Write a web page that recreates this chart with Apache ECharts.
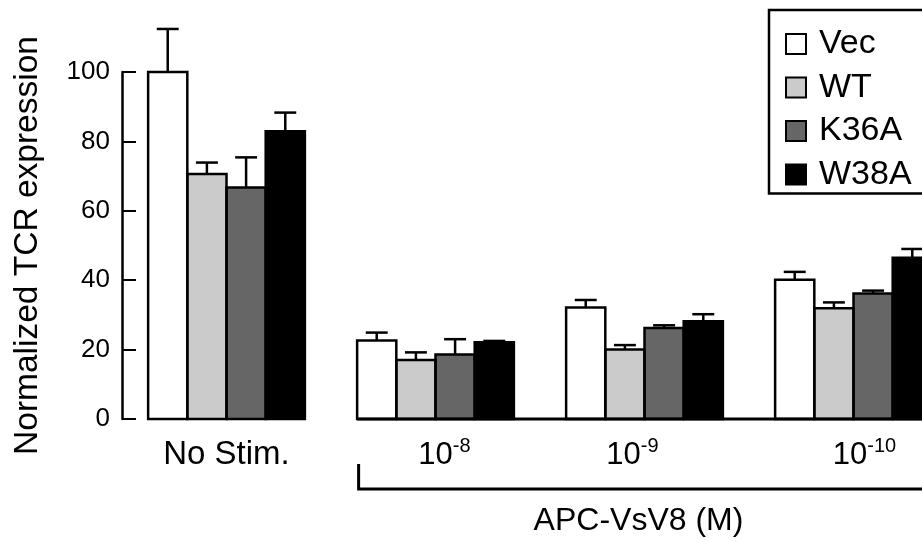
<!DOCTYPE html>
<html><head><meta charset="utf-8">
<script src="https://cdn.jsdelivr.net/npm/echarts@6/dist/echarts.min.js"></script>
<style>html,body{margin:0;padding:0;background:#fff}#c{width:922px;height:541px}</style>
</head><body><div id="c"></div>
<script>
// ---- data ----
const categoryBase = ['No Stim.', '10', '10', '10'];
const categoryExp = ['', '-8', '-9', '-10'];
const seriesNames = ['Vec', 'WT', 'K36A', 'W38A'];
const vecValues  = [100, 22.6, 32.1, 40.1];
const wtValues   = [70.6, 17.0, 20.0, 31.9];
const k36aValues = [66.7, 18.6, 26.2, 36.2];
const w38aValues = [82.9, 22.1, 28.2, 46.5];
const vecErr  = [12.4, 2.3, 2.2, 2.3];
const wtErr   = [3.3, 2.2, 1.3, 1.7];
const k36aErr = [8.7, 4.4, 0.8, 0.8];
const w38aErr = [5.4, 0.4, 2.0, 2.5];
const yTickValues = [0, 20, 40, 60, 80, 100];
const yTitle = 'Normalized TCR expression';
const xGroupTitle = 'APC-VsV8 (M)';
const stimStart = 1, stimEnd = 3;

// ---- styles ----
const FONT = '"Liberation Sans", Arial, sans-serif';
const fills = ['#ffffff', '#cbcbcb', '#666666', '#000000'];
const labelNudge = [0, 9, -12, 11];
const valuesBySeries = [vecValues, wtValues, k36aValues, w38aValues];
const errBySeries = [vecErr, wtErr, k36aErr, w38aErr];
const GROUP_FRAC = 0.75;

const categories = categoryBase.map((b, i) => b + categoryExp[i]);

// outline + error bar for each bar, positioned through the axes
function errRender(si) {
  return function (params, api) {
    const band = api.size([1, 0])[0];
    const bw = band * GROUP_FRAC / 4;
    const v = api.value(1), e = api.value(2);
    const base = api.coord([api.value(0), v]);
    const zero = api.coord([api.value(0), 0]);
    const top = api.coord([api.value(0), v + e]);
    const x = base[0] + (si - 1.5) * bw;
    const half = bw * 0.28;
    const st = { stroke: '#000', lineWidth: 2.5 };
    return { type: 'group', children: [
      { type: 'rect', shape: { x: x - bw / 2, y: base[1], width: bw, height: zero[1] - base[1] },
        style: { stroke: '#000', lineWidth: 2.5, fill: null } },
      { type: 'line', shape: { x1: x, y1: base[1], x2: x, y2: top[1] }, style: st },
      { type: 'line', shape: { x1: x - half, y1: top[1], x2: x + half, y2: top[1] }, style: st }
    ]};
  };
}

function annotRender(params, api) {
  const band = api.size([1, 0])[0];
  const gw = band * GROUP_FRAC;
  const p0 = api.coord([api.value(0), 0]);
  const p1 = api.coord([api.value(1), 0]);
  const xl = p0[0] - gw / 2;
  const xr = p1[0] + band;
  const y0 = p0[1];
  const mid = api.coord([2, 0])[0];
  return { type: 'group', children: [
    { type: 'line', shape: { x1: xl, y1: y0, x2: xr, y2: y0 }, style: { stroke: '#000', lineWidth: 3 } },
    { type: 'polyline', shape: { points: [[xl + 1.5, y0 + 45], [xl + 1.5, y0 + 70], [xr, y0 + 70]] },
      style: { stroke: '#000', lineWidth: 3, fill: null } },
    { type: 'text', x: mid - 6, y: y0 + 102,
      style: { text: xGroupTitle, font: '32px ' + FONT, fill: '#000', align: 'center', verticalAlign: 'middle' } }
  ]};
}

const series = [];
seriesNames.forEach((name, si) => {
  series.push({
    name: name, type: 'bar', barGap: '0%', barWidth: (GROUP_FRAC * 100 / 4) + '%',
    data: valuesBySeries[si],
    itemStyle: { color: fills[si], borderWidth: 0 },
    z: 2
  });
});
seriesNames.forEach((name, si) => {
  series.push({
    name: name + ' err', type: 'custom', renderItem: errRender(si),
    data: valuesBySeries[si].map((v, i) => [i, v, errBySeries[si][i]]),
    z: 3, silent: true
  });
});
series.push({ name: 'annot', type: 'custom', renderItem: annotRender, data: [[stimStart, stimEnd]], z: 4, silent: true });

const chart = echarts.init(document.getElementById('c'), null, { renderer: 'canvas' });
chart.setOption({
  animation: false,
  backgroundColor: '#fff',
  textStyle: { fontFamily: FONT },
  grid: { left: 122, width: 836, top: 72, height: 347, containLabel: false, outerBoundsMode: 'none' },
  legend: {
    data: seriesNames, orient: 'vertical', left: 769, top: 10,
    itemWidth: 20, itemHeight: 20, itemGap: 9.5,
    icon: 'rect',
    padding: [17, 40, 2, 16],
    borderColor: '#000', borderWidth: 2.5,
    itemStyle: { borderColor: '#000', borderWidth: 2 },
    textStyle: { fontSize: 34, lineHeight: 32, color: '#000', fontFamily: FONT, padding: [0, 0, 0, 8] },
    selectedMode: false
  },
  xAxis: {
    type: 'category',
    data: categories.map((c, i) => ({ value: c, textStyle: { padding: [0, labelNudge[i] > 0 ? 0 : -2 * labelNudge[i], 0, labelNudge[i] > 0 ? 2 * labelNudge[i] : 0] } })),
    axisLine: { show: false }, axisTick: { show: false },
    axisLabel: {
      margin: 17, color: '#000', fontFamily: FONT,
      formatter: function (val, idx) {
        return categoryExp[idx] ? '{big|' + categoryBase[idx] + '}{sup|' + categoryExp[idx] + '}' : '{norm|' + val + '}';
      },
      rich: {
        norm: { fontSize: 33, lineHeight: 38, fontFamily: FONT, color: '#000' },
        big: { fontSize: 31, lineHeight: 38, fontFamily: FONT, color: '#000' },
        sup: { fontSize: 20, lineHeight: 22, verticalAlign: 'top', fontFamily: FONT, color: '#000' }
      }
    },
    splitLine: { show: false }
  },
  yAxis: {
    type: 'value', min: yTickValues[0], max: yTickValues[yTickValues.length - 1], interval: yTickValues[1] - yTickValues[0],
    name: yTitle, nameLocation: 'middle', nameRotate: 90, nameGap: 77,
    nameTextStyle: { fontSize: 33.5, color: '#000', fontFamily: FONT },
    axisLine: { show: true, lineStyle: { color: '#000', width: 2.5 } },
    axisTick: { show: true, inside: true, length: 14, lineStyle: { color: '#000', width: 2 } },
    axisLabel: { fontSize: 26, color: '#000', margin: 12, fontFamily: FONT, padding: [6, 0, 0, 0] },
    splitLine: { show: false }
  },
  series: series
});
</script></body></html>
